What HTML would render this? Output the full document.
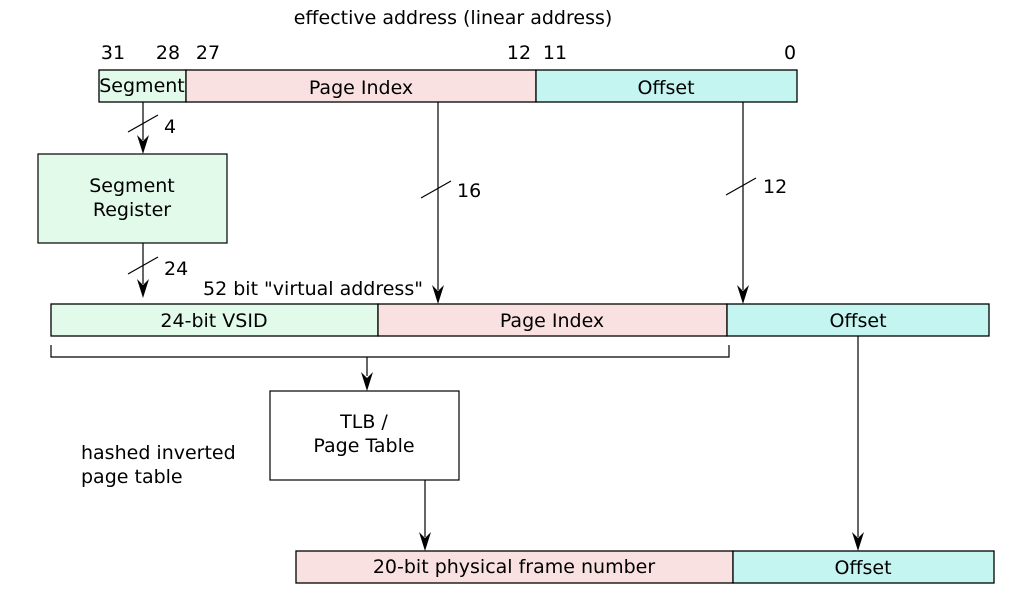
<!DOCTYPE html>
<html><head><meta charset="utf-8"><style>
html,body{margin:0;padding:0;background:#fff;}
svg{display:block;}
text{font-family:"DejaVu Sans","Liberation Sans",sans-serif;font-size:19px;fill:#000;}
</style></head><body>
<svg width="1033" height="593" viewBox="0 0 1033 593" xmlns="http://www.w3.org/2000/svg">
<text x="453" y="24" text-anchor="middle">effective address (linear address)</text>
<text x="113" y="59" text-anchor="middle">31</text>
<text x="168" y="59" text-anchor="middle">28</text>
<text x="208" y="59" text-anchor="middle">27</text>
<text x="519" y="59" text-anchor="middle">12</text>
<text x="555" y="59" text-anchor="middle">11</text>
<text x="790" y="59" text-anchor="middle">0</text>

<g stroke="#000" stroke-width="1.3">
<rect x="99" y="70" width="87" height="32" fill="#e1fae9"/>
<rect x="186" y="70" width="350" height="32" fill="#fae1e1"/>
<rect x="536" y="70" width="261" height="32" fill="#c4f5f1"/>
</g>
<text x="142" y="92" text-anchor="middle">Segment</text>
<text x="361" y="94" text-anchor="middle">Page Index</text>
<text x="666" y="94" text-anchor="middle">Offset</text>

<g stroke="#000" stroke-width="1.2" fill="none">
<line x1="143" y1="102" x2="143" y2="140"/>
<line x1="128" y1="132" x2="158" y2="115"/>
<line x1="143" y1="243" x2="143" y2="284"/>
<line x1="128" y1="274" x2="158" y2="257"/>
<line x1="438" y1="102" x2="438" y2="290"/>
<line x1="421" y1="198" x2="451" y2="181"/>
<line x1="743" y1="102" x2="743" y2="290"/>
<line x1="726" y1="195" x2="756" y2="178"/>
<path d="M51,345 V357 H729 V345"/>
<line x1="367" y1="357" x2="367" y2="376"/>
<line x1="425" y1="480" x2="425" y2="537"/>
<line x1="858" y1="336" x2="858" y2="537"/>
</g>
<g fill="#000">
<path d="M137,135 L143,154 L149,135 L143,141 Z"/>
<path d="M137,279 L143,298 L149,279 L143,285 Z"/>
<path d="M432,285 L438,304 L444,285 L438,291 Z"/>
<path d="M737,285 L743,304 L749,285 L743,291 Z"/>
<path d="M361,372 L367,391 L373,372 L367,378 Z"/>
<path d="M419,532 L425,551 L431,532 L425,538 Z"/>
<path d="M852,532 L858,551 L864,532 L858,538 Z"/>
</g>
<text x="164" y="133">4</text>
<text x="164" y="275">24</text>
<text x="457" y="197">16</text>
<text x="763" y="193">12</text>

<rect x="38" y="154" width="189" height="89" fill="#e1fae9" stroke="#000" stroke-width="1.2"/>
<text x="132" y="192" text-anchor="middle">Segment</text>
<text x="132" y="216" text-anchor="middle">Register</text>

<text x="313" y="295" text-anchor="middle">52 bit "virtual address"</text>

<g stroke="#000" stroke-width="1.3">
<rect x="51" y="304" width="327" height="32" fill="#e1fae9"/>
<rect x="378" y="304" width="349" height="32" fill="#fae1e1"/>
<rect x="727" y="304" width="262" height="32" fill="#c4f5f1"/>
</g>
<text x="214" y="327" text-anchor="middle">24-bit VSID</text>
<text x="552" y="327" text-anchor="middle">Page Index</text>
<text x="858" y="327" text-anchor="middle">Offset</text>

<rect x="270" y="391" width="189" height="89" fill="#fff" stroke="#000" stroke-width="1.2"/>
<text x="364" y="428" text-anchor="middle">TLB /</text>
<text x="364" y="452" text-anchor="middle">Page Table</text>

<text x="81" y="459">hashed inverted</text>
<text x="81" y="483">page table</text>

<g stroke="#000" stroke-width="1.3">
<rect x="296" y="551" width="437" height="32" fill="#fae1e1"/>
<rect x="733" y="551" width="261" height="32" fill="#c4f5f1"/>
</g>
<text x="514" y="573" text-anchor="middle">20-bit physical frame number</text>
<text x="863" y="574" text-anchor="middle">Offset</text>
</svg>
</body></html>
